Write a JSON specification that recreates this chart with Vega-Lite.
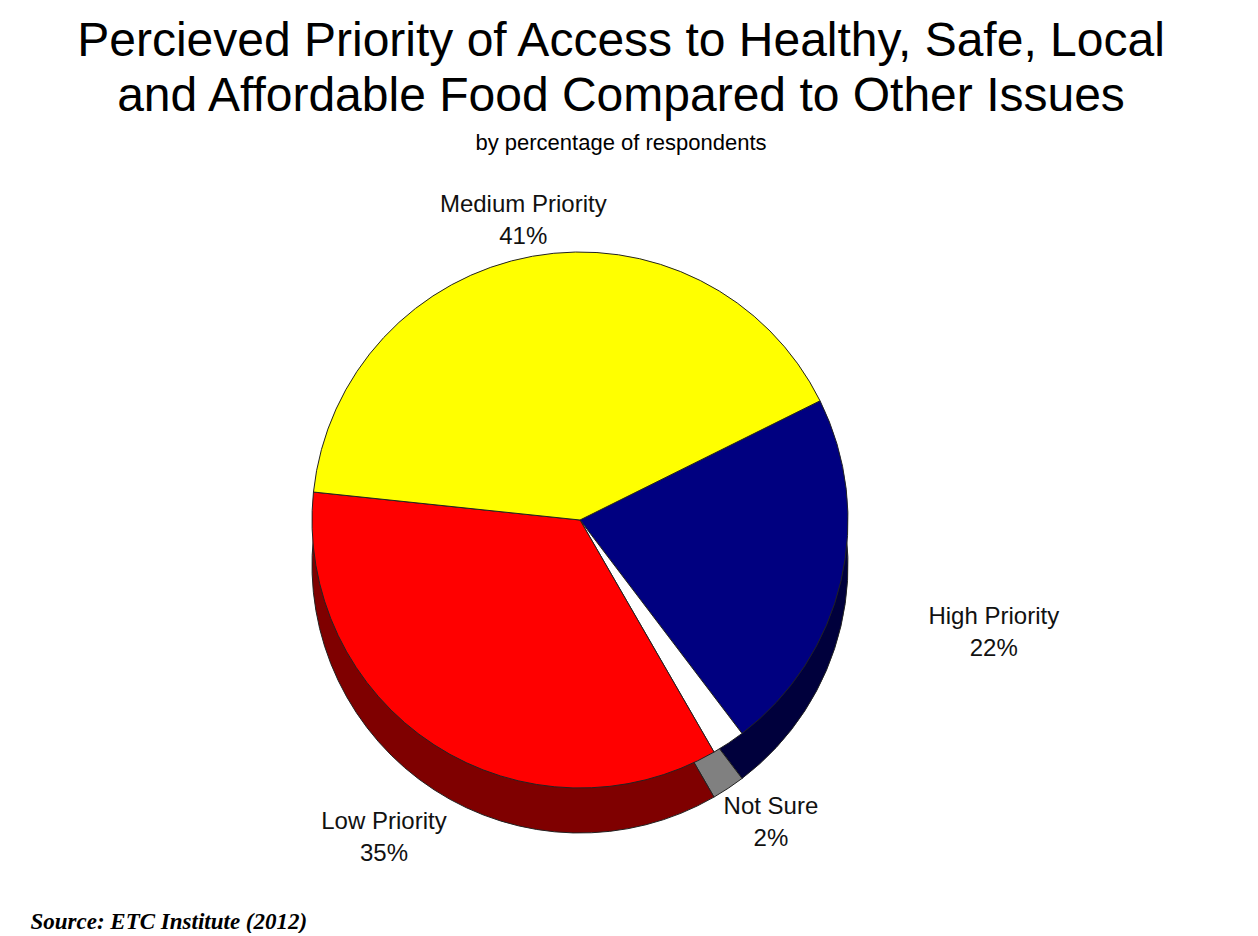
{
  "$schema": "https://vega.github.io/schema/vega-lite/v6.json",
  "width": 1100,
  "height": 712,
  "padding": {"left": 30, "right": 128, "top": 18, "bottom": 0},
  "title": {
    "text": ["Percieved Priority of Access to Healthy, Safe, Local", "and Affordable Food Compared to Other Issues"],
    "subtitle": "by percentage of respondents",
    "font": "Liberation Sans",
    "fontSize": 48,
    "fontWeight": "normal",
    "lineHeight": 55,
    "color": "black",
    "subtitleFont": "Liberation Sans",
    "subtitleFontSize": 22,
    "subtitleColor": "black",
    "subtitlePadding": 12,
    "anchor": "middle",
    "dx": 41,
    "offset": 10
  },
  "data": {
    "values": [
      {"priority": "High Priority", "pct": 22, "ord": 1, "label": "High Priority\n22%"},
      {"priority": "Not Sure", "pct": 2, "ord": 2, "label": "Not Sure\n2%"},
      {"priority": "Low Priority", "pct": 35, "ord": 3, "label": "Low Priority\n35%"},
      {"priority": "Medium Priority", "pct": 41, "ord": 4, "label": "Medium Priority\n41%"}
    ]
  },
  "layer": [
    {
      "mark": {"type": "arc", "radius": 268, "yOffset": 45, "stroke": "#222222", "strokeWidth": 1},
      "encoding": {
        "theta": {"field": "pct", "type": "quantitative", "stack": true, "scale": {"range": [1.11, 7.393]}},
        "order": {"field": "ord", "type": "quantitative"},
        "color": {
          "field": "priority", "type": "nominal", "legend": null,
          "scale": {"domain": ["High Priority", "Not Sure", "Low Priority", "Medium Priority"], "range": ["#00003C", "#808080", "#7F0000", "#808000"]}
        }
      }
    },
    {
      "mark": {"type": "arc", "radius": 268, "stroke": "#222222", "strokeWidth": 1},
      "encoding": {
        "theta": {"field": "pct", "type": "quantitative", "stack": true},
        "order": {"field": "ord", "type": "quantitative"},
        "fill": {
          "field": "priority", "type": "nominal", "legend": null,
          "scale": {"domain": ["High Priority", "Not Sure", "Low Priority", "Medium Priority"], "range": ["#000080", "#FFFFFF", "#FF0000", "#FFFF00"]}
        }
      }
    },
    {
      "mark": {"type": "text", "font": "Liberation Sans", "fontSize": 24, "lineBreak": "\n", "lineHeight": 32, "align": "center", "baseline": "middle", "color": "#111111"},
      "encoding": {
        "theta": {"field": "pct", "type": "quantitative", "stack": true},
        "order": {"field": "ord", "type": "quantitative"},
        "radius": {
          "field": "pct", "type": "quantitative", "legend": null,
          "scale": {"type": "linear", "domain": [2, 22, 35, 41], "range": [345, 425, 360, 320]}
        },
        "text": {"field": "label", "type": "nominal"}
      }
    },
    {
      "mark": {"type": "point", "opacity": 0},
      "encoding": {
        "x": {
          "field": "pct", "type": "quantitative",
          "axis": {"title": "Source:  ETC Institute (2012)", "titleAnchor": "start", "domain": false, "ticks": false, "labels": false, "grid": false, "titleFont": "Liberation Serif", "titleFontStyle": "italic", "titleFontWeight": "bold", "titleFontSize": 23, "titlePadding": 34, "titleColor": "black"}
        }
      }
    }
  ],
  "resolve": {"scale": {"color": "independent", "fill": "independent"}},
  "config": {"view": {"stroke": null}, "background": "white"}
}
